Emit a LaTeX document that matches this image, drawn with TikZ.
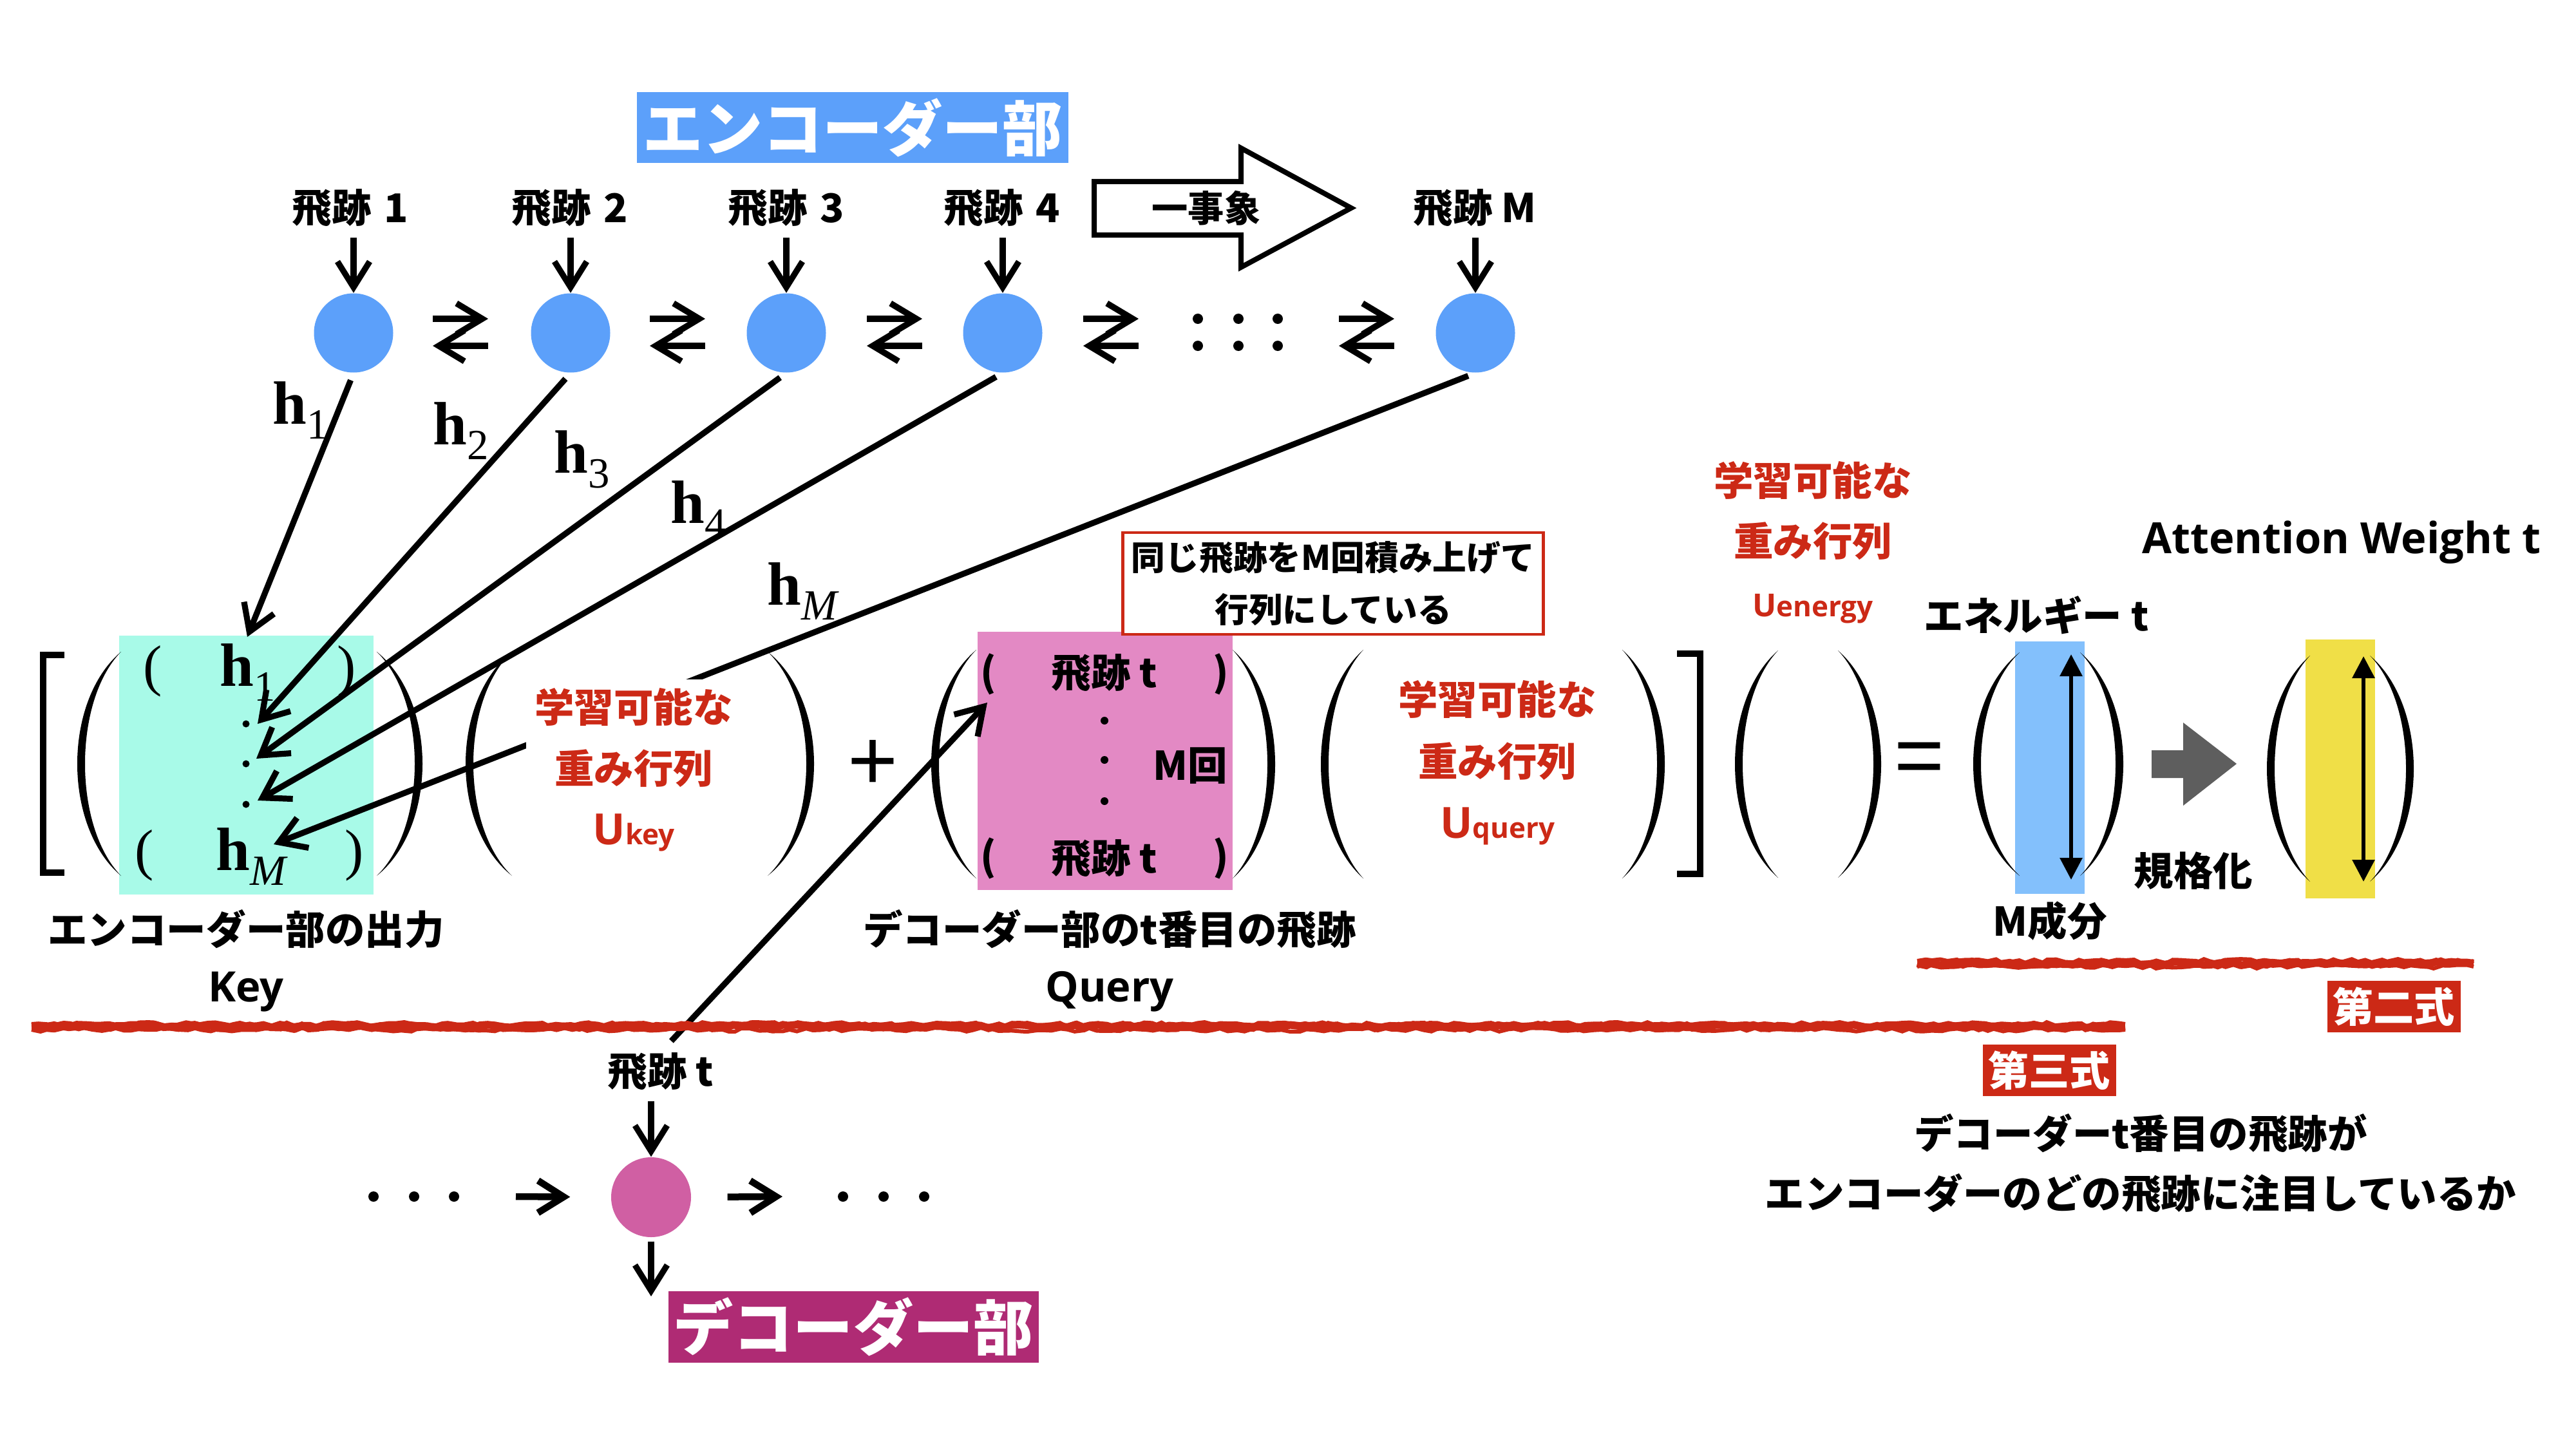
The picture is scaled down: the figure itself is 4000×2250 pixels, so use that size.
\documentclass[tikz,border=0pt]{standalone}
\usepackage{fontspec}
\setmainfont{Noto Sans CJK JP}
\newfontfamily\lat{Open Sans}
\newfontfamily\tms{Liberation Serif}
\newfontfamily\ars{Liberation Sans}
\usetikzlibrary{arrows.meta,decorations.pathmorphing}
\definecolor{encblue}{RGB}{92,160,250}
\definecolor{cyanbox}{RGB}{168,250,232}
\definecolor{pinkbox}{RGB}{227,137,196}
\definecolor{decpink}{RGB}{208,95,163}
\definecolor{decmag}{RGB}{175,43,116}
\definecolor{redc}{RGB}{204,41,22}
\definecolor{bluebox}{RGB}{131,192,252}
\definecolor{yelbox}{RGB}{240,223,71}
\definecolor{grayarr}{RGB}{94,94,94}
\newcommand{\FS}[1]{\fontsize{#1}{#1}\selectfont}
\newcommand{\hlab}[1]{{\tms\bfseries\FS{27}h}\raisebox{-6.5pt}{\tms\mdseries\FS{19}#1}}
\newcommand{\BigPar}[5]{%
  \fill (#2,#3) .. controls ({#2-(#2-(#1))/0.75},{#3+(#4-#3)*0.22}) and ({#2-(#2-(#1))/0.75},{#4-(#4-#3)*0.22}) .. (#2,#4)
   .. controls ({#2-(#2-(#1)-(#5))/0.75},{#4-(#4-#3)*0.22}) and ({#2-(#2-(#1)-(#5))/0.75},{#3+(#4-#3)*0.22}) .. (#2,#3) -- cycle;}
\tikzset{
  jp/.style={font=\bfseries\FS{17.5}, inner sep=0pt},
  latin/.style={font=\lat\bfseries\FS{18.5}, inner sep=0pt},
  redtxt/.style={jp, text=redc},
  title/.style={font=\bfseries\FS{26.5}, text=white, inner sep=0pt},
  barb/.style={-{Straight Barb[length=4mm,width=5mm]}, line width=0.92mm},
  harp/.style={-{Straight Barb[length=4mm,width=4.8mm]}, line width=0.95mm},
  darr/.style={{Triangle[length=3.4mm,width=3.4mm]}-{Triangle[length=3.4mm,width=3.4mm]}, line width=0.6mm},
  encnode/.style={circle, fill=encblue, minimum size=12.3mm, inner sep=0pt},
  hl/.style={inner sep=0pt},
  crayon/.style={redc, decorate, decoration={random steps, segment length=1.2mm, amplitude=0.3mm}},
  formbox/.style={fill=redc, text=white, font=\bfseries\FS{18}, inner sep=0pt, minimum width=20.7mm, minimum height=8mm}
}
\begin{document}
\begin{tikzpicture}[x=0.1mm,y=-0.1mm]
\pgfmathsetseed{7}
\fill[white] (0,0) rectangle (4000,2250);
\useasboundingbox (0,0) rectangle (4000,2250);

% coloured column backgrounds
\fill[cyanbox] (185,987) rectangle (580,1389);
\fill[pinkbox] (1518,981) rectangle (1914,1382);
\fill[bluebox] (3129,996) rectangle (3237,1388);
\fill[yelbox] (3580,993) rectangle (3688,1395);

% ===== encoder =====
\node[title, fill=encblue, minimum width=67mm, minimum height=11mm] (enc) at (1324,198) {エンコーダー部};

\node[jp] (l1) at (544,323) {飛跡\hspace{0.1em} 1};
\node[jp] (l2) at (885,323) {飛跡\hspace{0.1em} 2};
\node[jp] (l3) at (1221,323) {飛跡\hspace{0.1em} 3};
\node[jp] (l4) at (1556,323) {飛跡\hspace{0.1em} 4};
\node[jp] (lM) at (2290,323) {飛跡 M};

\node[encnode] (c1) at (549,517) {};
\node[encnode] (c2) at (886,517) {};
\node[encnode] (c3) at (1221,517) {};
\node[encnode] (c4) at (1557,517) {};
\node[encnode] (cM) at (2291,517) {};

\foreach \l/\c in {l1/c1,l2/c2,l3/c3,l4/c4,lM/cM}
  \draw[barb, shorten <=1.6mm] (\l.south -| \c) -- (\c.north);

% one-event hollow arrow
\draw[line width=0.8mm, miter limit=10] (1699,282) -- (1927,282) -- (1927,230) -- (2098,323) -- (1927,415) -- (1927,365) -- (1699,365) -- cycle;
\node[jp, font=\bfseries\FS{16}] (ev) at (1873,323) {一事象};

% exchange arrows between encoder nodes
\coordinate (m12) at (715,516);
\coordinate (m23) at (1052,516);
\coordinate (m34) at (1389,516);
\coordinate (m4d) at (1725,516);
\coordinate (mdM) at (2122,516);
\foreach \m in {m12,m23,m34,m4d,mdM}{
  \draw[harp] ([xshift=-4.3mm,yshift=2.1mm]\m) -- ([xshift=4.3mm,yshift=2.1mm]\m);
  \draw[harp] ([xshift=4.3mm,yshift=-2.1mm]\m) -- ([xshift=-4.3mm,yshift=-2.1mm]\m);
}
\foreach \x in {1860,1923,1984}{
  \fill (\x,495) circle (0.8mm);
  \fill (\x,537) circle (0.8mm);
}

% ===== brackets and parentheses =====
\draw[line width=1mm] (100,1017) -- (67,1017) -- (67,1355) -- (100,1355);
\draw[line width=1mm] (2604,1015) -- (2640,1015) -- (2640,1357) -- (2604,1357);

\BigPar{120}{188}{1012}{1360}{12}
\BigPar{656}{585}{1012}{1360}{-12}
\BigPar{723}{795}{1012}{1360}{12}
\BigPar{1264}{1192}{1012}{1360}{-12}
\BigPar{1446}{1516}{1009}{1364}{12}
\BigPar{1980}{1914}{1009}{1364}{-12}
\BigPar{2051}{2117}{1009}{1364}{12}
\BigPar{2585}{2519}{1009}{1364}{-12}
\BigPar{2694}{2761}{1010}{1363}{12}
\BigPar{2921}{2854}{1010}{1363}{-12}
\BigPar{3064}{3136}{1013}{1360}{12}
\BigPar{3297}{3230}{1013}{1360}{-12}
\BigPar{3520}{3587}{1018}{1369}{12}
\BigPar{3748}{3680}{1018}{1369}{-12}

% ===== key matrix content =====
\node[hl, font=\tms\FS{25}] (kp1l) at (237,1042) {(};
\node[hl, font=\tms\FS{25}] (kp1r) at (538,1042) {)};
\node[hl, font=\tms\FS{25}] (kpMl) at (224,1328) {(};
\node[hl, font=\tms\FS{25}] (kpMr) at (550,1328) {)};
\node[hl] (kh1) at (385,1044) {\hlab{1}};
\node[hl] (khM) at (390,1330) {\hlab{\itshape M}};
\foreach \y in {1124,1186,1249} \fill (382,\y) circle (0.55mm);

\node[jp] (keylab) at (382,1443) {エンコーダー部の出力};
\node[latin] (keyname) at (382,1540) {Key};

% h arrows
\coordinate (k1) at (384,989);
\coordinate (k2) at (400,1124);
\coordinate (k3) at (398,1178);
\coordinate (k4) at (400,1243);
\coordinate (kM) at (425,1311);
\draw[barb, shorten <=1.2mm] (c1.south) -- (k1);
\draw[barb, shorten <=1.2mm] (c2.south) -- (k2);
\draw[barb, shorten <=1.2mm] (c3.south) -- (k3);
\draw[barb, shorten <=1.2mm] (c4.south) -- (k4);
\draw[barb, shorten <=1.2mm] (cM.south) -- (kM);

\node[hl] (h1) at (467,637) {\hlab{1}};
\node[hl] (h2) at (716,669) {\hlab{2}};
\node[hl] (h3) at (904,713) {\hlab{3}};
\node[hl] (h4) at (1085,791) {\hlab{4}};
\node[hl] (hM) at (1246,918) {\hlab{\itshape M}};

% U key (white box hides the h_M line)
\node[jp, text=redc, fill=white, inner sep=1.3mm, align=center, font=\bfseries\fontsize{17.5}{27}\selectfont] (ukey) at (984,1195)
  {学習可能な\\重み行列\\{\lat\FS{19}U{\FS{12.5}key}}};

% plus
\node[hl, font=\ars\FS{38}] (plus) at (1355,1188) {+};

% ===== decoder =====
\node[jp] (dt) at (1026,1664) {飛跡 t};
\node[circle, fill=decpink, minimum size=12.4mm, inner sep=0pt] (dc) at (1011,1859) {};
\draw[barb, shorten <=1.6mm] (dt.south -| dc) -- (dc.north);
\coordinate (dend) at (1011,2013);
\draw[barb, shorten <=0.6mm] (dc.south) -- (dend);
\coordinate (la) at (801,1858);
\coordinate (ra) at (1215,1858);
\draw[barb, line width=1.05mm, shorten >=6.3mm] (la) -- (dc.west);
\draw[barb, line width=1.05mm, shorten <=5.6mm] (dc.east) -- (ra);
\foreach \x in {580,643,705,1309,1372,1435} \fill (\x,1858) circle (0.8mm);
\node[title, fill=decmag, minimum width=57.5mm, minimum height=11.1mm] (dec) at (1325,2060) {デコーダー部};

% line from decoder track to query
\coordinate (qin) at (1533,1091);
\draw[barb, shorten <=2.4mm] (dt.north) -- (qin);

% ===== query matrix content =====
\node[jp] (qp1l) at (1535,1047) {(};
\node[jp] (qp1r) at (1896,1047) {)};
\node[jp] (qp2l) at (1535,1333) {(};
\node[jp] (qp2r) at (1896,1333) {)};
\node[jp] (qt1) at (1715,1045) {飛跡 t};
\node[jp] (qt2) at (1715,1333) {飛跡 t};
\foreach \y in {1119,1180,1244} \fill (1715,\y) circle (0.6mm);
\node[jp] (qm) at (1848,1189) {M回};
\node[jp] (qlab) at (1723,1443) {デコーダー部のt番目の飛跡};
\node[latin] (qname) at (1723,1540) {Query};

\node[draw=redc, line width=0.45mm, fill=white, minimum width=65.3mm, minimum height=15.8mm, align=center,
      font=\bfseries\fontsize{15}{22.8}\selectfont, inner sep=0pt] (note) at (2070,906)
  {同じ飛跡をM回積み上げて\\行列にしている};

% U query
\node[jp, text=redc, align=center, font=\bfseries\fontsize{17.5}{27.3}\selectfont] (uq) at (2325,1184)
  {学習可能な\\重み行列\\{\lat\FS{19}U{\FS{12.5}query}}};

% ===== energy =====
\node[redtxt] (ue1) at (2815,746) {学習可能な};
\node[redtxt] (ue2) at (2815,840) {重み行列};
\node[hl, text=redc, font=\lat\bfseries\FS{14}] (ue3) at (2815,945) {U{\FS{12.5}energy}};
\node[hl, font=\ars\FS{38}] (eq) at (2980,1186) {=};

\node[jp] (en) at (3162,955) {エネルギー t};
\node[latin, font=\lat\bfseries\FS{19}] (aw) at (3636,842) {Attention Weight t};
\coordinate (ea) at (3216,1016);
\coordinate (eb) at (3216,1366);
\draw[darr] (ea) -- (eb);
\node[jp] (mc) at (3183,1430) {M成分};

\fill[grayarr] (3341,1165) -- (3390,1165) -- (3390,1122) -- (3473,1186) -- (3390,1251) -- (3390,1208) -- (3341,1208) -- cycle;
\node[jp] (norm) at (3406,1352) {規格化};

\coordinate (wa) at (3670,1019);
\coordinate (wb) at (3670,1369);
\draw[darr] (wa) -- (wb);

% ===== crayon lines and labels =====
\draw[crayon, line width=1.2mm] (49,1594) -- (3300,1594);
\draw[crayon, line width=0.6mm] (49,1590) -- (3300,1590);
\draw[crayon, line width=0.6mm] (49,1599) -- (3300,1599);
\draw[crayon, line width=1.2mm] (2977,1496) -- (3841,1496);
\draw[crayon, line width=0.6mm] (2977,1492) -- (3841,1492);
\draw[crayon, line width=0.6mm] (2977,1501) -- (3841,1501);

\node[formbox] (f2) at (3717,1563) {第二式};
\node[formbox] (f3) at (3182,1662) {第三式};
\node[jp] (b1) at (3324,1760) {デコーダーt番目の飛跡が};
\node[jp] (b2) at (3324,1853) {エンコーダーのどの飛跡に注目しているか};
\end{tikzpicture}
\end{document}
